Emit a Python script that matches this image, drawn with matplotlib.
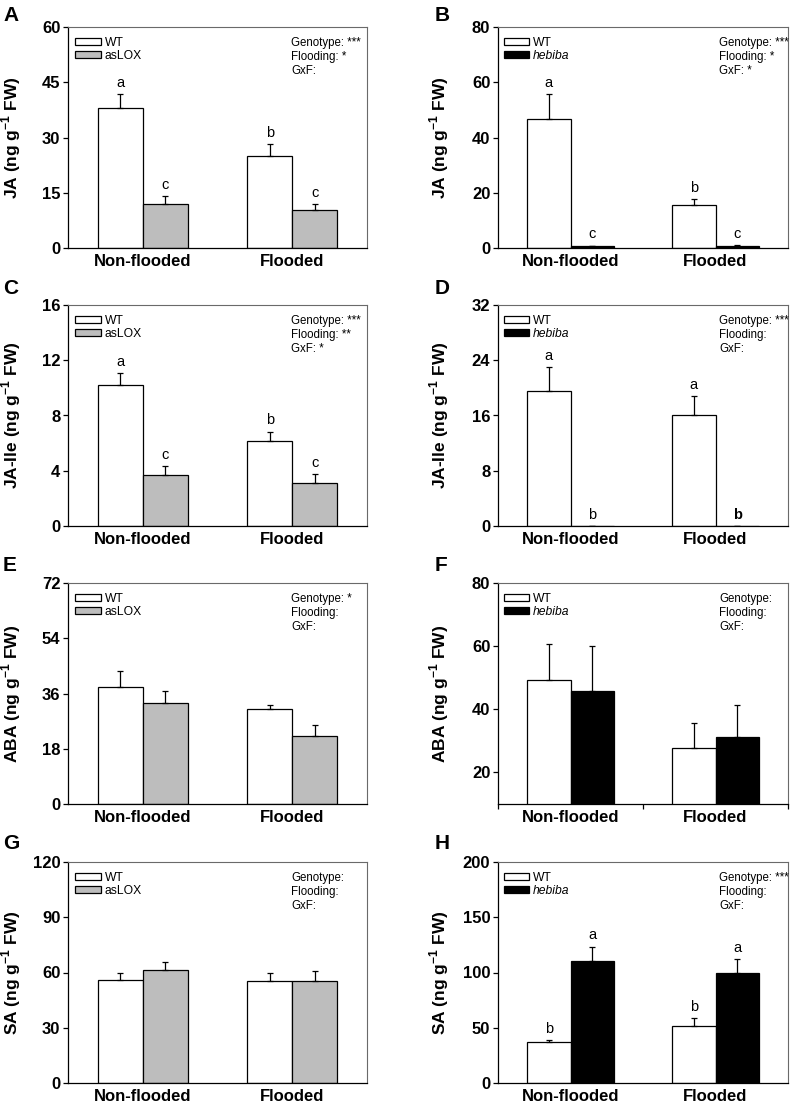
import numpy as np
import matplotlib
matplotlib.use("Agg")
import matplotlib.pyplot as plt

plt.rcParams['font.family'] = ['Liberation Sans', 'DejaVu Sans']
plt.rcParams['mathtext.fontset'] = 'custom'
plt.rcParams['mathtext.rm'] = 'Liberation Sans'
plt.rcParams['mathtext.bf'] = 'Liberation Sans:bold'

conditions = ["Non-flooded", "Flooded"]

# panel A: JA, WT vs asLOX
A_wt = [38.0, 25.0]
A_wt_err = [3.7, 3.1]
A_mut = [12.0, 10.3]
A_mut_err = [2.0, 1.6]
A_letters = [["a", "b"], ["c", "c"]]
A_stats = ["Genotype: ***", "Flooding: *", "GxF:"]

# panel B: JA, WT vs hebiba
B_wt = [46.7, 15.6]
B_wt_err = [9.0, 2.1]
B_mut = [0.6, 0.7]
B_mut_err = [0.25, 0.4]
B_letters = [["a", "b"], ["c", "c"]]
B_stats = ["Genotype: ***", "Flooding: *", "GxF: *"]

# panel C: JA-Ile, WT vs asLOX
C_wt = [10.23, 6.16]
C_wt_err = [0.87, 0.67]
C_mut = [3.66, 3.13]
C_mut_err = [0.67, 0.65]
C_letters = [["a", "b"], ["c", "c"]]
C_stats = ["Genotype: ***", "Flooding: **", "GxF: *"]

# panel D: JA-Ile, WT vs hebiba
D_wt = [19.6, 16.07]
D_wt_err = [3.45, 2.73]
D_mut = [0.0, 0.0]
D_mut_err = [0.0, 0.0]
D_letters = [["a", "a"], ["b", "b"]]
D_stats = ["Genotype: ***", "Flooding:", "GxF:"]

# panel E: ABA, WT vs asLOX
E_wt = [38.0, 30.9]
E_wt_err = [5.3, 1.5]
E_mut = [33.0, 22.2]
E_mut_err = [3.9, 3.5]
E_stats = ["Genotype: *", "Flooding:", "GxF:"]

# panel F: ABA, WT vs hebiba
F_wt = [49.4, 27.8]
F_wt_err = [11.3, 7.9]
F_mut = [45.8, 31.1]
F_mut_err = [14.4, 10.1]
F_stats = ["Genotype:", "Flooding:", "GxF:"]

# panel G: SA, WT vs asLOX
G_wt = [55.9, 55.2]
G_wt_err = [3.6, 4.3]
G_mut = [61.5, 55.4]
G_mut_err = [4.2, 5.4]
G_stats = ["Genotype:", "Flooding:", "GxF:"]

# panel H: SA, WT vs hebiba
H_wt = [37.4, 51.6]
H_wt_err = [1.8, 7.2]
H_mut = [110.7, 99.8]
H_mut_err = [12.7, 12.4]
H_letters = [["b", "b"], ["a", "a"]]
H_stats = ["Genotype: ***", "Flooding:", "GxF:"]

W, H = 797, 1105
fig = plt.figure(figsize=(W / 100, H / 100), dpi=100)


def panel(col, row, tag, wt, wt_err, mut, mut_err, mut_name, ylabel, yticks,
          ylim, stats, letters=None, bold_letters=()):
    left = 68 if col == 0 else 498
    width = 299 if col == 0 else 290
    top = [27, 305, 583, 862][row]
    ax = fig.add_axes([left / W, 1 - (top + 221) / H, width / W, 221 / H])
    x = np.array([0.5, 1.5])
    w = 0.3
    mut_color = "#bdbdbd" if mut_name == "asLOX" else "black"
    ax.bar(x - w / 2, wt, w, color="white", edgecolor="black", linewidth=0.9,
           label="WT", zorder=2)
    ax.bar(x + w / 2, mut, w, color=mut_color, edgecolor="black", linewidth=0.9,
           label=mut_name, zorder=2)
    ax.errorbar(x - w / 2, wt, yerr=[np.zeros(2), wt_err], fmt="none",
                ecolor="black", elinewidth=0.9, capsize=2, capthick=0.9, zorder=3)
    ax.errorbar(x + w / 2, mut, yerr=[np.zeros(2), mut_err], fmt="none",
                ecolor="black", elinewidth=0.9, capsize=2, capthick=0.9, zorder=3)

    if letters is not None:
        for gi, (vals, errs, dx) in enumerate([(wt, wt_err, -w / 2), (mut, mut_err, w / 2)]):
            for ci in range(2):
                bold = (gi, ci) in bold_letters
                ax.annotate(letters[gi][ci], (x[ci] + dx, vals[ci] + errs[ci]),
                            xytext=(0, 3), textcoords="offset points",
                            ha="center", va="bottom", fontsize=10.5,
                            fontweight="bold" if bold else "normal")

    ax.set_xlim(0, 2)
    ax.set_ylim(*ylim)
    ax.set_yticks(yticks)
    ax.set_xticks(x)
    ax.set_xticklabels(conditions, fontsize=12, fontweight="bold")
    ax.tick_params(axis="x", length=0, pad=4)
    ax.tick_params(axis="y", direction="out", length=3.5, width=0.9, pad=2,
                   labelsize=12)
    for lab in ax.get_yticklabels():
        lab.set_fontweight("bold")
    if ylim[0] > 0:
        ax.set_xticks([0, 1, 2], minor=True)
        ax.tick_params(axis="x", which="minor", direction="out", length=3.5,
                       width=0.9)

    for s in ["left", "bottom"]:
        ax.spines[s].set_color("black")
        ax.spines[s].set_linewidth(0.9)
    for s in ["top", "right"]:
        ax.spines[s].set_color("#6a6a6a")
        ax.spines[s].set_linewidth(0.8)

    ax.set_ylabel(ylabel, fontsize=12.5, fontweight="bold")
    ax.yaxis.set_label_coords(-0.15 if col == 0 else -0.162, 0.5)

    leg = ax.legend(loc="upper left", bbox_to_anchor=(0.025 if col == 0 else 0.02, 0.955),
                    frameon=False, fontsize=8.7, handlelength=2.1, handleheight=0.55,
                    labelspacing=0.05, handletextpad=0.3, borderpad=0,
                    borderaxespad=0)
    if mut_name == "hebiba":
        leg.get_texts()[1].set_style("italic")

    sx = 0.746 if col == 0 else 0.762
    for i, s in enumerate(stats):
        ax.text(sx, 0.928 - i * 0.063, s, transform=ax.transAxes, fontsize=8.3,
                ha="left", va="center")

    fig.text((3 if col == 0 else 435) / W, 1 - [6, 279, 556, 834][row] / H, tag,
             fontsize=15, fontweight="bold", va="top", ha="left")
    return ax


unit = " (ng g$^{\\mathbf{-1}}$ FW)"
panel(0, 0, "A", A_wt, A_wt_err, A_mut, A_mut_err, "asLOX", "JA" + unit,
      [0, 15, 30, 45, 60], (0, 60), A_stats, A_letters)
panel(1, 0, "B", B_wt, B_wt_err, B_mut, B_mut_err, "hebiba", "JA" + unit,
      [0, 20, 40, 60, 80], (0, 80), B_stats, B_letters)
panel(0, 1, "C", C_wt, C_wt_err, C_mut, C_mut_err, "asLOX", "JA-Ile" + unit,
      [0, 4, 8, 12, 16], (0, 16), C_stats, C_letters)
panel(1, 1, "D", D_wt, D_wt_err, D_mut, D_mut_err, "hebiba", "JA-Ile" + unit,
      [0, 8, 16, 24, 32], (0, 32), D_stats, D_letters, bold_letters=[(1, 1)])
panel(0, 2, "E", E_wt, E_wt_err, E_mut, E_mut_err, "asLOX", "ABA" + unit,
      [0, 18, 36, 54, 72], (0, 72), E_stats)
panel(1, 2, "F", F_wt, F_wt_err, F_mut, F_mut_err, "hebiba", "ABA" + unit,
      [20, 40, 60, 80], (10, 80), F_stats)
panel(0, 3, "G", G_wt, G_wt_err, G_mut, G_mut_err, "asLOX", "SA" + unit,
      [0, 30, 60, 90, 120], (0, 120), G_stats)
panel(1, 3, "H", H_wt, H_wt_err, H_mut, H_mut_err, "hebiba", "SA" + unit,
      [0, 50, 100, 150, 200], (0, 200), H_stats, H_letters)

fig.savefig("out.png", dpi=100)
